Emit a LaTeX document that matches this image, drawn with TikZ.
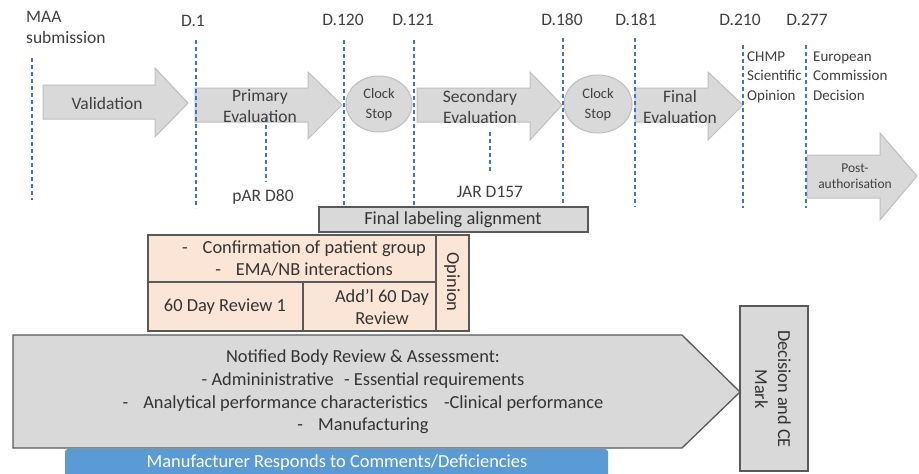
\documentclass[tikz,border=0pt]{standalone}
\usepackage{fontspec}
\setmainfont{Carlito}
\definecolor{txtc}{HTML}{404040}
\definecolor{txtd}{HTML}{333333}
\definecolor{dashc}{HTML}{4472C4}
\definecolor{grayf}{HTML}{D9D9D9}
\definecolor{grayl}{HTML}{BFBFBF}
\definecolor{grayd}{HTML}{595959}
\definecolor{pinkf}{HTML}{FBE5D6}
\definecolor{bluef}{HTML}{5B9BD5}
\begin{document}
\begin{tikzpicture}[x=1pt,y=-1pt,
  txt/.style={text=txtc, inner sep=0pt, align=center, font=\fontsize{17.5}{21}\selectfont},
  big/.style={text=txtd, inner sep=0pt, align=center, font=\fontsize{18.4}{22}\selectfont},
  mid/.style={text=txtc, inner sep=0pt, align=left, font=\fontsize{15}{19.5}\selectfont},
  clk/.style={text=txtc, inner sep=0pt, align=center, font=\fontsize{14.5}{20}\selectfont},
  tiny/.style={text=txtc, inner sep=0pt, align=center, font=\fontsize{13.5}{16}\selectfont},
  body/.style={text=txtd, inner sep=0pt, align=center, font=\fontsize{18.4}{22.7}\selectfont},
  tl/.style={draw=dashc, line width=1.8pt, dash pattern=on 4pt off 3pt},
  toparrow/.style={fill=grayf, draw=grayl, line width=1pt},
  graybox/.style={fill=grayf, draw=grayd, line width=1.3pt},
  pinkbox/.style={fill=pinkf, draw=grayd, line width=1.1pt}
]
\clip (0,0) rectangle (919,474);
\fill[white] (0,0) rectangle (919,474);

% top arrows
\draw[toparrow] (43,85) -- (155,85) -- (155,68) -- (188,103) -- (155,137) -- (155,119) -- (43,119) -- cycle;
\draw[toparrow] (195,88) -- (308,88) -- (308,72) -- (342,105) -- (308,139) -- (308,122) -- (195,122) -- cycle;
\draw[toparrow] (417,88) -- (530,88) -- (530,72) -- (562,105) -- (530,140) -- (530,122) -- (417,122) -- cycle;
\draw[toparrow] (635,88) -- (708,88) -- (708,72) -- (743,105) -- (708,140) -- (708,122) -- (635,122) -- cycle;
\draw[toparrow] (807,155) -- (880,155) -- (880,133) -- (917,176) -- (880,220) -- (880,198) -- (807,198) -- cycle;

% clock stops
\path[draw=grayl, fill=grayf, line width=1pt] (379,104) ellipse [x radius=33, y radius=28];
\path[draw=grayl, fill=grayf, line width=1pt] (598,104) ellipse [x radius=34, y radius=29];

% timeline coordinates
\coordinate (m1) at (32,58);   \coordinate (m2) at (32,200);
\coordinate (a1) at (196,40);  \coordinate (a2) at (196,208);
\coordinate (b1) at (344,40);  \coordinate (b2) at (344,208);
\coordinate (c1) at (414,40);  \coordinate (c2) at (414,208);
\coordinate (d1) at (563,38);  \coordinate (d2) at (563,207);
\coordinate (e1) at (635,38);  \coordinate (e2) at (635,207);
\coordinate (f1) at (743,45);  \coordinate (f2) at (743,208);
\coordinate (g1) at (806,45);  \coordinate (g2) at (806,208);
\coordinate (p1) at (266,118); \coordinate (p2) at (266,182);
\coordinate (j1) at (490,132); \coordinate (j2) at (490,173);
\draw[tl] (m1) -- (m2);
\draw[tl] (a1) -- (a2);
\draw[tl] (b1) -- (b2);
\draw[tl] (c1) -- (c2);
\draw[tl] (d1) -- (d2);
\draw[tl] (e1) -- (e2);
\draw[tl] (f1) -- (f2);
\draw[tl] (g1) -- (g2);
\draw[tl] (p1) -- (p2);
\draw[tl] (j1) -- (j2);

% top labels
\node[txt, anchor=west, align=left] (maa) at (26,27.5) {MAA\\submission};
\node[txt] (d1l) at (193,21) {D.1};
\node[txt] (d120) at (343,20) {D.120};
\node[txt] (d121) at (413,20) {D.121};
\node[txt] (d180) at (562,20) {D.180};
\node[txt] (d181) at (636,20) {D.181};
\node[txt] (d210) at (740,20) {D.210};
\node[txt] (d277) at (807,20) {D.277};

\node[txt] (val) at (107,103) {Validation};
\node[txt] (prim) at (260,106.5) {Primary\\Evaluation};
\node[clk] (cs1) at (379,105) {Clock\\Stop};
\node[txt] (sec) at (480,106.5) {Secondary\\Evaluation};
\node[clk] (cs2) at (598,105) {Clock\\Stop};
\node[txt] (fin) at (680,106.5) {Final\\Evaluation};
\node[mid, anchor=west] (chmp) at (747,77) {CHMP\\Scientific\\Opinion};
\node[mid, anchor=west] (ec) at (813,76) {European\\Commission\\Decision};
\node[tiny] (post) at (855,176) {Post-\\authorisation};
\node[txt] (par) at (263,197) {pAR D80};
\node[txt] (jar) at (490,192) {JAR D157};

% final labeling alignment
\draw[graybox] (319,207) rectangle (588,232);
\node[big] (fla) at (453,219.5) {Final labeling alignment};

% pink block
\draw[pinkbox] (148,235) rectangle (436,282);
\draw[pinkbox] (148,282) rectangle (303,331);
\draw[pinkbox] (303,282) rectangle (436,331);
\draw[pinkbox] (436,235) rectangle (469,331);
\node[body, font=\fontsize{18.4}{22}\selectfont] (conf) at (304,259) {-\hspace{15pt}Confirmation of patient group\\-\hspace{15pt}EMA/NB interactions};
\node[big] (r1) at (225,307) {60 Day Review 1};
\node[big] (r2) at (382,307.5) {Add'l 60 Day\\Review};
\node[big, rotate=-90] (op) at (452,282) {Opinion};

% notified body pentagon
\draw[graybox] (13,335) -- (682,335) -- (740,392) -- (682,448) -- (13,448) -- cycle;
\node[body] (nb) at (363,392) {Notified Body Review \& Assessment:\\- Admininistrative\hspace{6pt} - Essential requirements\\-\hspace{15pt}Analytical performance characteristics\hspace{12pt} -Clinical performance\\-\hspace{15pt}Manufacturing};

% manufacturer responds
\fill[bluef, rounded corners=3pt] (65,449) rectangle (608,485);
\node[big, text=white] (mr) at (337,463) {Manufacturer Responds to Comments/Deficiencies};

% decision
\draw[graybox] (740,306) rectangle (808,471);
\node[big, rotate=-90, font=\fontsize{18.3}{23}\selectfont] (dec) at (773,389) {Decision and CE\\Mark};
\end{tikzpicture}
\end{document}
